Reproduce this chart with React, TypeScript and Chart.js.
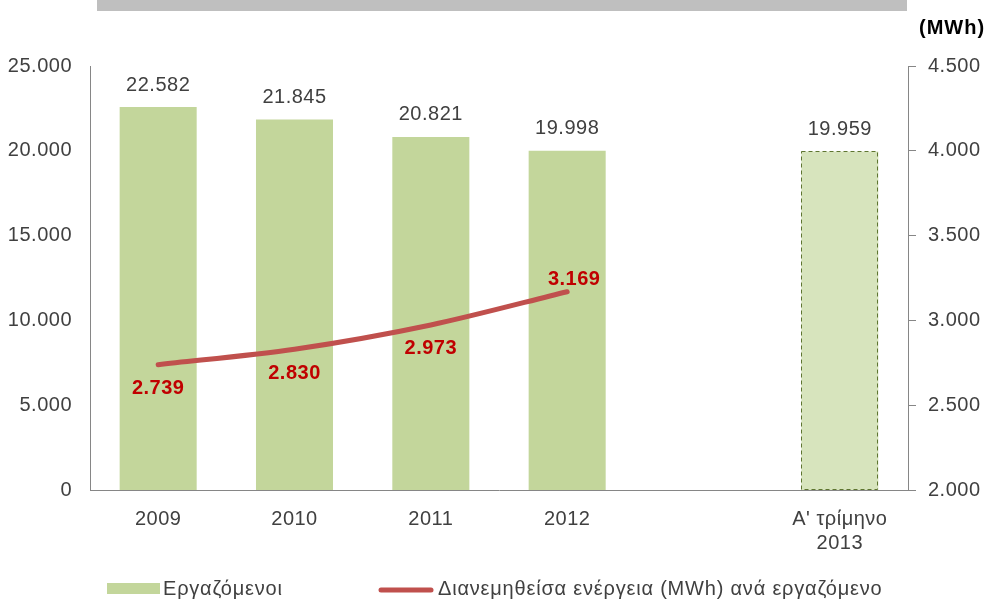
import React, { useEffect, useRef } from 'react';
import { Chart, registerables } from 'chart.js';

Chart.register(...registerables);

const categories: (string | string[])[] = ['2009', '2010', '2011', '2012', '', ["Α' τρίμηνο", '2013']];
const employees: (number | null)[] = [22582, 21845, 20821, 19998, null, 19959];
const energyPerEmployee: (number | null)[] = [2739, 2830, 2973, 3169, null, null];
const seriesLabels = ['Εργαζόμενοι', 'Διανεμηθείσα ενέργεια (MWh) ανά εργαζόμενο'];
const leftAxis = { min: 0, max: 25000, step: 5000 };
const rightAxis = { min: 2000, max: 4500, step: 500 };
const rightAxisUnit = '(MWh)';
const energyLabelPlacement = ['below', 'below', 'below', 'above'];

const FONT = '"Liberation Sans", Arial, sans-serif';
const TEXT = '#404040';
const AXIS = '#868686';
const BAR = '#C3D69B';
const BAR_LIGHT = '#D7E4BD';
const BAR_DASH = '#5E7530';
const LINE = '#C0504D';
const LINE_LABEL = '#C00000';

const fmt = (v: number) => String(Math.round(v)).replace(/\B(?=(\d{3})+(?!\d))/g, '.');

const overlay = {
  id: 'overlay',
  beforeDraw(chart: any) {
    const ctx = chart.ctx;
    ctx.save();
    ctx.fillStyle = '#BFBFBF';
    ctx.fillRect(97, 0, 810, 11);
    ctx.restore();
    ctx.letterSpacing = '0.5px';
  },
  afterDatasetsDraw(chart: any) {
    const ctx = chart.ctx;
    const barMeta = chart.getDatasetMeta(0);
    const lineMeta = chart.getDatasetMeta(1);
    ctx.save();
    // dashed border on the last (partial-year) bar
    const last = barMeta.data[employees.length - 1] as any;
    if (last && employees[employees.length - 1] != null) {
      const left = last.x - last.width / 2;
      ctx.setLineDash([4, 3]);
      ctx.strokeStyle = BAR_DASH;
      ctx.lineWidth = 1;
      ctx.strokeRect(Math.round(left) + 0.5, Math.round(last.y) + 0.5, Math.round(last.width) - 1, Math.round(last.base - last.y) - 1);
      ctx.setLineDash([]);
    }
    // bar value labels
    ctx.font = `20px ${FONT}`;
    ctx.fillStyle = TEXT;
    ctx.textAlign = 'center';
    ctx.textBaseline = 'middle';
    barMeta.data.forEach((el: any, i: number) => {
      const v = employees[i];
      if (v == null) return;
      ctx.fillText(fmt(v), el.x, el.y - 22);
    });
    // line value labels
    ctx.font = `bold 20px ${FONT}`;
    ctx.fillStyle = LINE_LABEL;
    lineMeta.data.forEach((el: any, i: number) => {
      const v = energyPerEmployee[i];
      if (v == null) return;
      if (energyLabelPlacement[i] === 'above') ctx.fillText(fmt(v), el.x + 7, el.y - 12);
      else ctx.fillText(fmt(v), el.x, el.y + 24);
    });
    ctx.restore();
  },
  afterDraw(chart: any) {
    const ctx = chart.ctx;
    ctx.save();
    // unit label for the right axis
    ctx.letterSpacing = '1px';
    ctx.font = `bold 20px ${FONT}`;
    ctx.fillStyle = '#000000';
    ctx.textAlign = 'left';
    ctx.textBaseline = 'middle';
    ctx.fillText(rightAxisUnit, 919, 28);
    // legend
    ctx.letterSpacing = '0.8px';
    ctx.font = `20px ${FONT}`;
    ctx.fillStyle = BAR;
    ctx.fillRect(107, 583, 53, 11);
    ctx.fillStyle = TEXT;
    ctx.fillText(seriesLabels[0], 163, 589);
    ctx.strokeStyle = LINE;
    ctx.lineWidth = 5;
    ctx.lineCap = 'round';
    ctx.beginPath();
    ctx.moveTo(381, 590);
    ctx.lineTo(431, 590);
    ctx.stroke();
    ctx.fillText(seriesLabels[1], 438, 589);
    ctx.restore();
  },
};

export default function App() {
  const ref = useRef<HTMLCanvasElement>(null);
  useEffect(() => {
    if (!ref.current) return;
    const chart = new Chart(ref.current, {
      type: 'bar',
      data: {
        labels: categories as any,
        datasets: [
          {
            type: 'bar',
            label: seriesLabels[0],
            data: employees,
            backgroundColor: employees.map((_, i) => (i === employees.length - 1 ? BAR_LIGHT : BAR)),
            borderWidth: 0,
            categoryPercentage: 1,
            barPercentage: 0.565,
            yAxisID: 'y',
            order: 2,
          },
          {
            type: 'line',
            label: seriesLabels[1],
            data: energyPerEmployee,
            borderColor: LINE,
            backgroundColor: LINE,
            borderWidth: 5,
            borderCapStyle: 'round',
            tension: 0.3,
            pointRadius: 0,
            pointHoverRadius: 0,
            spanGaps: false,
            yAxisID: 'y1',
            order: 1,
          } as any,
        ],
      },
      options: {
        responsive: false,
        animation: false,
        devicePixelRatio: 1,
        layout: { padding: { top: 66, left: 0, right: 0, bottom: 0 } },
        plugins: { legend: { display: false }, tooltip: { enabled: false } },
        scales: {
          x: {
            grid: { display: false, drawTicks: false },
            border: { display: true, color: AXIS, width: 1 },
            ticks: { color: TEXT, font: { family: FONT, size: 20, lineHeight: 1.2 }, padding: 17, maxRotation: 0, autoSkip: false },
            afterFit: (s: any) => { s.height = 111; },
          },
          y: {
            position: 'left',
            min: leftAxis.min,
            max: leftAxis.max,
            grid: { display: false, drawTicks: false },
            border: { display: true, color: AXIS, width: 1 },
            ticks: { stepSize: leftAxis.step, color: TEXT, font: { family: FONT, size: 20 }, padding: 18, callback: (v: any) => fmt(Number(v)) },
            afterFit: (s: any) => { s.width = 90; },
          },
          y1: {
            position: 'right',
            min: rightAxis.min,
            max: rightAxis.max,
            grid: { display: true, drawOnChartArea: false, drawTicks: true, tickLength: 8, color: AXIS, lineWidth: 1 },
            border: { display: true, color: AXIS, width: 1 },
            ticks: { stepSize: rightAxis.step, color: TEXT, font: { family: FONT, size: 20 }, padding: 12, callback: (v: any) => fmt(Number(v)) },
            afterFit: (s: any) => { s.width = 80; },
          },
        },
      } as any,
      plugins: [overlay],
    });
    return () => chart.destroy();
  }, []);
  return (
    <div style={{ position: 'fixed', left: 0, top: 0, width: 988, height: 601, background: '#ffffff' }}>
      <canvas ref={ref} width={988} height={601} style={{ display: 'block' }} />
    </div>
  );
}
